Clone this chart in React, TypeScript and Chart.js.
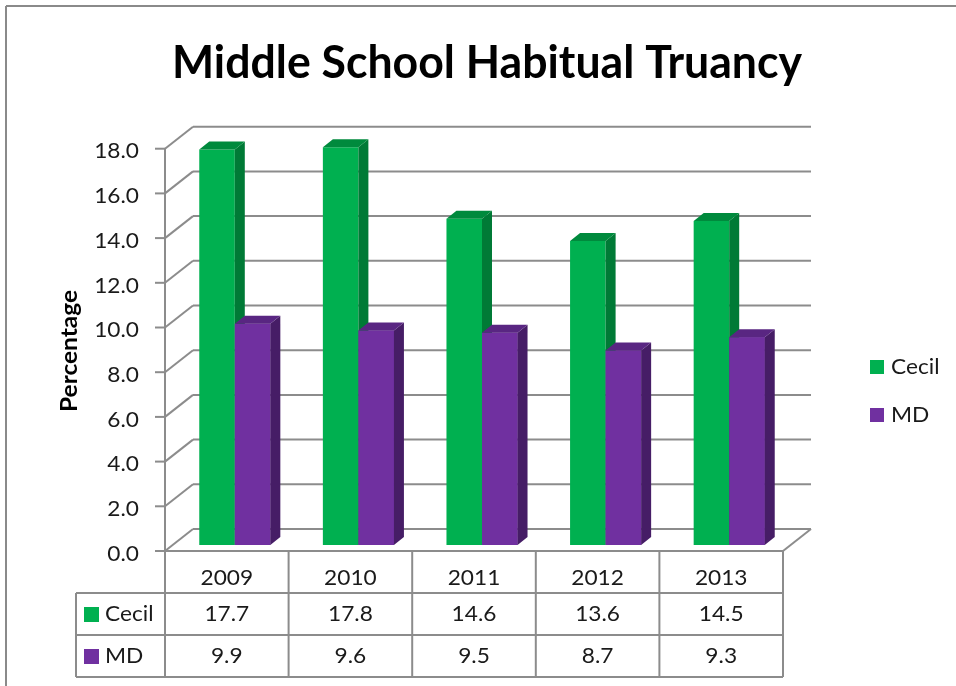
import React, { useEffect, useRef } from "react";
import { Chart, registerables } from "chart.js";

Chart.register(...registerables);

const categories = ["2009", "2010", "2011", "2012", "2013"];
const cecilValues = [17.7, 17.8, 14.6, 13.6, 14.5];
const mdValues = [9.9, 9.6, 9.5, 8.7, 9.3];
const seriesNames = ["Cecil", "MD"];
const chartTitle = "Middle School Habitual Truancy";
const yAxisTitle = "Percentage";

const FRONT_COLORS = ["#00B050", "#7030A0"];
const SIDE_COLORS = ["#007A36", "#461D66"];
const TOP_COLORS = ["#008A3D", "#592682"];
const GRID = "#8C8C8C";
const FONT = "Lato, 'Open Sans', sans-serif";
const SX = 1.08; // horizontal stretch of text

// geometry offsets relative to the bar plane
const FRONT = { dx: -8, dy: 6 };
const BACK = { dx: 20, dy: -16 };
const BAR_D = { dx: 10, dy: -8 };

function txt(ctx: CanvasRenderingContext2D, s: string, x: number, y: number, align: CanvasTextAlign, sx = SX) {
  ctx.save();
  ctx.translate(x, y);
  ctx.scale(sx, 1);
  ctx.textAlign = align;
  ctx.fillText(s, 0, 0);
  ctx.restore();
}

function line(ctx: CanvasRenderingContext2D, x0: number, y0: number, x1: number, y1: number) {
  ctx.beginPath();
  ctx.moveTo(x0, y0);
  ctx.lineTo(x1, y1);
  ctx.stroke();
}

function drawFaces(ctx: CanvasRenderingContext2D, bar: any, di: number) {
  const { x, y, base, width } = bar.getProps(["x", "y", "base", "width"], true);
  const l = x - width / 2;
  const r = x + width / 2;
  ctx.fillStyle = SIDE_COLORS[di];
  ctx.beginPath();
  ctx.moveTo(r, y);
  ctx.lineTo(r + BAR_D.dx, y + BAR_D.dy);
  ctx.lineTo(r + BAR_D.dx, base + BAR_D.dy);
  ctx.lineTo(r, base);
  ctx.closePath();
  ctx.fill();
  ctx.fillStyle = TOP_COLORS[di];
  ctx.beginPath();
  ctx.moveTo(l, y);
  ctx.lineTo(r, y);
  ctx.lineTo(r + BAR_D.dx, y + BAR_D.dy);
  ctx.lineTo(l + BAR_D.dx, y + BAR_D.dy);
  ctx.closePath();
  ctx.fill();
}

const threeD = {
  id: "threeD",
  beforeDatasetsDraw(chart: any) {
    const { ctx, chartArea: ca, scales } = chart;
    const y = scales.y;
    ctx.save();
    ctx.strokeStyle = GRID;
    ctx.lineWidth = 2;
    const fx0 = ca.left + FRONT.dx;
    const fx1 = ca.right + FRONT.dx;
    const bx0 = ca.left + BACK.dx;
    const bx1 = ca.right + BACK.dx;
    y.ticks.forEach((t: any) => {
      const py = y.getPixelForValue(t.value);
      const yb = py + BACK.dy;
      const yf = py + FRONT.dy;
      line(ctx, bx0, yb, bx1, yb);
      line(ctx, fx0, yf, bx0, yb);
      line(ctx, fx0 - 10, yf, fx0, yf);
    });
    const p0 = y.getPixelForValue(0);
    const pTop = y.getPixelForValue(y.max);
    line(ctx, fx0, p0 + FRONT.dy, fx1, p0 + FRONT.dy);
    line(ctx, fx1, p0 + FRONT.dy, bx1, p0 + BACK.dy);
    line(ctx, fx0, pTop + FRONT.dy, fx0, p0 + FRONT.dy);
    ctx.fillStyle = "#1a1a1a";
    ctx.font = `21px ${FONT}`;
    ctx.textBaseline = "middle";
    y.ticks.forEach((t: any) => {
      const py = y.getPixelForValue(t.value) + FRONT.dy + 3;
      txt(ctx, t.value.toFixed(1), fx0 - 26, py, "right");
    });
    ctx.restore();
  },
  afterDatasetsDraw(chart: any) {
    const { ctx } = chart;
    const m0 = chart.getDatasetMeta(0);
    const m1 = chart.getDatasetMeta(1);
    ctx.save();
    m0.data.forEach((bar: any) => drawFaces(ctx, bar, 0));
    // the MD bars stand in front of the Cecil side faces
    m1.data.forEach((bar: any) => bar.draw(ctx, chart.chartArea));
    m1.data.forEach((bar: any) => drawFaces(ctx, bar, 1));
    ctx.restore();
  },
  afterDraw(chart: any) {
    const { ctx, chartArea: ca, scales } = chart;
    const y = scales.y;
    const xs = scales.x;
    ctx.save();
    ctx.strokeStyle = "#8A8A8A";
    ctx.lineWidth = 2;
    line(ctx, 6, 6, 956, 6);
    line(ctx, 6, 6, 6, 686);

    ctx.fillStyle = "#000";
    ctx.font = `bold 46px ${FONT}`;
    ctx.textBaseline = "alphabetic";
    const tw = ctx.measureText(chartTitle).width;
    txt(ctx, chartTitle, 487, 78, "center", 630 / tw);

    ctx.save();
    ctx.translate(77, 351);
    ctx.rotate(-Math.PI / 2);
    ctx.font = `bold 23px ${FONT}`;
    const yw = ctx.measureText(yAxisTitle).width;
    ctx.textBaseline = "alphabetic";
    txt(ctx, yAxisTitle, 0, 0, "center", 122 / yw);
    ctx.restore();

    const p0 = y.getPixelForValue(0) + FRONT.dy;
    const rowH = 42;
    const fx0 = ca.left + FRONT.dx;
    const fx1 = ca.right + FRONT.dx;
    const keyLeft = 76;
    const catW = (ca.right - ca.left) / categories.length;
    ctx.strokeStyle = GRID;
    ctx.lineWidth = 2;
    line(ctx, keyLeft, p0 + rowH, fx1, p0 + rowH);
    line(ctx, keyLeft, p0 + 2 * rowH, fx1, p0 + 2 * rowH);
    line(ctx, keyLeft, p0 + 3 * rowH, fx1, p0 + 3 * rowH);
    line(ctx, keyLeft, p0 + rowH, keyLeft, p0 + 3 * rowH);
    for (let i = 0; i <= categories.length; i++) {
      const cx = fx0 + i * catW;
      line(ctx, cx, p0, cx, p0 + 3 * rowH);
    }
    ctx.fillStyle = "#1a1a1a";
    ctx.font = `21px ${FONT}`;
    ctx.textBaseline = "middle";
    const rows = [cecilValues, mdValues];
    categories.forEach((c, i) => {
      const cx = xs.getPixelForValue(i) + FRONT.dx;
      txt(ctx, c, cx, p0 + 27, "center");
      rows.forEach((vals, r) => {
        txt(ctx, vals[i].toFixed(1), cx, p0 + rowH * (r + 1) + 21, "center");
      });
    });
    seriesNames.forEach((n, r) => {
      const cy = p0 + rowH * (r + 1) + 21;
      ctx.fillStyle = FRONT_COLORS[r];
      ctx.fillRect(84, cy - 7, 15, 15);
      ctx.fillStyle = "#1a1a1a";
      txt(ctx, n, 105, cy, "left");
    });

    seriesNames.forEach((n, r) => {
      const cy = 367 + r * 48;
      ctx.fillStyle = FRONT_COLORS[r];
      ctx.fillRect(870, cy - 7, 14, 14);
      ctx.fillStyle = "#1a1a1a";
      txt(ctx, n, 891, cy, "left");
    });
    ctx.restore();
  },
};

export default function App() {
  const ref = useRef<HTMLCanvasElement | null>(null);
  useEffect(() => {
    if (!ref.current) return;
    const chart = new Chart(ref.current, {
      type: "bar",
      data: {
        labels: categories,
        datasets: [
          { label: seriesNames[0], data: cecilValues, backgroundColor: FRONT_COLORS[0] },
          { label: seriesNames[1], data: mdValues, backgroundColor: FRONT_COLORS[1] },
        ],
      },
      options: {
        responsive: false,
        animation: false,
        events: [],
        layout: { padding: { left: 173, right: 165, top: 142.7, bottom: 141 } },
        datasets: { bar: { categoryPercentage: 0.575, barPercentage: 1 } },
        scales: {
          x: { display: false },
          y: { display: false, min: 0, max: 18, ticks: { stepSize: 2 } },
        },
        plugins: { legend: { display: false }, title: { display: false }, tooltip: { enabled: false } },
      },
      plugins: [threeD],
    });
    return () => chart.destroy();
  }, []);
  return (
    <div style={{ position: "fixed", left: 0, top: 0, width: 956, height: 686, background: "#fff" }}>
      <canvas ref={ref} width={956} height={686} />
    </div>
  );
}
